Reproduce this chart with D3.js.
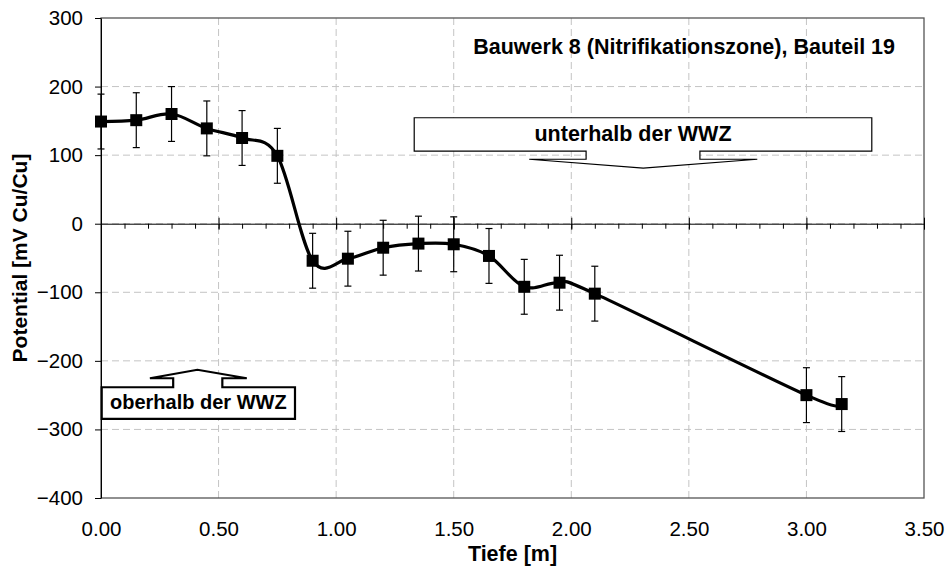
<!DOCTYPE html>
<html>
<head>
<meta charset="utf-8">
<script src="https://cdn.jsdelivr.net/npm/d3@7"></script>
<style>
  body { margin: 0; background: #fff; }
  svg { font-family: "Liberation Sans", Arial, sans-serif; }
  .grid line { stroke: #c4c4c4; stroke-width: 1; stroke-dasharray: 7,4; }
  .axis path, .axis line { stroke: #000; }
  .labels path { display: none; }
  .labels text { font-size: 20.5px; fill: #000; }
  .title { font-weight: bold; font-size: 21.5px; }
</style>
</head>
<body>
<svg id="chart" width="948" height="568"></svg>
<script>

// Tiefe [m]
var depths = [0.00, 0.15, 0.30, 0.45, 0.60, 0.75, 0.90, 1.05, 1.20, 1.35, 1.50, 1.65, 1.80, 1.95, 2.10, 3.00, 3.15];
// Potential [mV Cu/Cu]
var potentials = [149, 151, 160, 139, 125, 99, -54, -51, -35, -29, -30, -47, -92, -86, -102, -250, -263];
var errors = [40, 40, 40, 40, 40, 40, 40, 40, 40, 40, 40, 40, 40, 40, 40, 40, 40];

var xTicks = [0, 0.5, 1, 1.5, 2, 2.5, 3, 3.5];
var xMinorTicks = d3.range(0, 35).map(function(i) { return i / 10; });
var yTicks = [-400, -300, -200, -100, 0, 100, 200, 300];

var chartTitle = 'Bauwerk 8 (Nitrifikationszone), Bauteil 19';
var xTitle = 'Tiefe [m]';
var yTitle = 'Potential [mV Cu/Cu]';

// callouts, given in data units
var calloutBelow = { text: 'unterhalb der WWZ', x0: 1.332, x1: 3.278, y0: 154.5, y1: 106,
  shaft: [2.063, 2.547], stemY: 94, wings: [1.821, 2.791], tip: [2.306, 81] };
var calloutAbove = { text: 'oberhalb der WWZ', x0: 0.003, x1: 0.825, y0: -284.7, y1: -238.5,
  shaft: [0.307, 0.516], stemY: -225.4, wings: [0.208, 0.62], tip: [0.41, -213] };

var settings = { width: 948, height: 568, left: 101, right: 24, top: 18, bottom: 70 };

var data = depths.map(function(d, i) { return { x: d, y: potentials[i], e: errors[i] }; });

var svg = d3.select('#chart');

var scaleX = d3.scaleLinear()
  .domain([0, 3.5])
  .range([settings.left, settings.width - settings.right]);
var scaleY = d3.scaleLinear()
  .domain([-400, 300])
  .range([settings.height - settings.bottom, settings.top]);

// grid
var grid = svg.append('g').classed('grid', true);
grid.selectAll('.gx')
  .data(xTicks.slice(1, -1))
  .enter().append('line')
  .attr('x1', function(d) { return scaleX(d); })
  .attr('x2', function(d) { return scaleX(d); })
  .attr('y1', settings.top)
  .attr('y2', settings.height - settings.bottom);
grid.selectAll('.gy')
  .data(yTicks.slice(1, -1))
  .enter().append('line')
  .attr('y1', function(d) { return scaleY(d); })
  .attr('y2', function(d) { return scaleY(d); })
  .attr('x1', settings.left)
  .attr('x2', settings.width - settings.right);

// plot frame
svg.append('rect')
  .attr('x', settings.left)
  .attr('y', settings.top)
  .attr('width', settings.width - settings.left - settings.right)
  .attr('height', settings.height - settings.top - settings.bottom)
  .attr('fill', 'none')
  .attr('stroke', '#555')
  .attr('stroke-width', 1.3);

// y axis
var groupY = svg.append('g')
  .classed('axis', true)
  .attr('transform', 'translate(' + settings.left + ',0)')
  .call(d3.axisLeft(scaleY).tickValues(yTicks).tickSize(6).tickSizeOuter(0).tickPadding(12));
groupY.selectAll('text').attr('font-size', 20.5).attr('font-family', null).attr('fill', '#000');

// x axis along zero: minor ticks below, major ticks crossing
var zeroAxis = svg.append('g')
  .classed('axis', true)
  .attr('transform', 'translate(0,' + scaleY(0) + ')');
zeroAxis.call(d3.axisBottom(scaleX).tickValues(xMinorTicks).tickSize(5).tickSizeOuter(0).tickFormat(''));
var majors = svg.append('g')
  .classed('axis', true)
  .attr('transform', 'translate(0,' + scaleY(0) + ')')
  .call(d3.axisBottom(scaleX).tickValues(xTicks).tickSize(6).tickSizeOuter(0).tickFormat(''));
majors.select('.domain').remove();
majors.selectAll('.tick line').attr('y1', -6);

// x labels at the bottom
svg.append('g')
  .classed('labels', true)
  .attr('transform', 'translate(0,' + (settings.height - settings.bottom) + ')')
  .call(d3.axisBottom(scaleX).tickValues(xTicks).tickSize(0).tickPadding(23).tickFormat(d3.format('.2f')))
  .selectAll('text').attr('font-family', null);

// error bars
var bars = svg.append('g').selectAll('g')
  .data(data)
  .enter().append('g')
  .attr('stroke', '#000')
  .attr('stroke-width', 1.2);
bars.append('line')
  .attr('x1', function(d) { return scaleX(d.x); })
  .attr('x2', function(d) { return scaleX(d.x); })
  .attr('y1', function(d) { return scaleY(d.y + d.e); })
  .attr('y2', function(d) { return scaleY(d.y - d.e); });
bars.selectAll('.cap')
  .data(function(d) { return [[d.x, d.y + d.e], [d.x, d.y - d.e]]; })
  .enter().append('line')
  .attr('x1', function(d) { return scaleX(d[0]) - 3.5; })
  .attr('x2', function(d) { return scaleX(d[0]) + 3.5; })
  .attr('y1', function(d) { return scaleY(d[1]); })
  .attr('y2', function(d) { return scaleY(d[1]); });

// smoothed line
var line = d3.line()
  .x(function(d) { return scaleX(d.x); })
  .y(function(d) { return scaleY(d.y); })
  .curve(d3.curveCardinal.tension(0));
svg.append('path')
  .datum(data)
  .attr('d', line)
  .attr('fill', 'none')
  .attr('stroke', '#000')
  .attr('stroke-width', 3.2)
  .attr('stroke-linejoin', 'round');

// markers
svg.append('g').selectAll('rect')
  .data(data)
  .enter().append('rect')
  .attr('x', function(d) { return scaleX(d.x) - 6; })
  .attr('y', function(d) { return scaleY(d.y) - 6; })
  .attr('width', 12)
  .attr('height', 12)
  .attr('fill', '#000');

// callouts
function drawCallout(c, strokeWidth) {
  var sign = c.tip[1] > c.y0 ? 1 : -1; // arrow up or down
  var edge = sign > 0 ? Math.max(c.y0, c.y1) : Math.min(c.y0, c.y1);
  var far = sign > 0 ? Math.min(c.y0, c.y1) : Math.max(c.y0, c.y1);
  var pts = [
    [c.x0, far], [c.x1, far], [c.x1, edge],
    [c.shaft[1], edge], [c.shaft[1], c.stemY], [c.wings[1], c.stemY],
    [c.tip[0], c.tip[1]],
    [c.wings[0], c.stemY], [c.shaft[0], c.stemY], [c.shaft[0], edge],
    [c.x0, edge]
  ];
  svg.append('path')
    .attr('d', d3.line()(pts.map(function(p) { return [scaleX(p[0]), scaleY(p[1])]; })) + 'Z')
    .attr('fill', '#fff')
    .attr('stroke', '#000')
    .attr('stroke-width', strokeWidth);
  return (scaleX(c.x0) + scaleX(c.x1)) / 2;
}

var cxBelow = drawCallout(calloutBelow, 1.2);
svg.append('text')
  .classed('title', true)
  .attr('x', cxBelow - 10)
  .attr('y', 141)
  .attr('text-anchor', 'middle')
  .text(calloutBelow.text);

var cxAbove = drawCallout(calloutAbove, 2.2);
svg.append('text')
  .classed('title', true)
  .style('font-size', '20px')
  .attr('x', cxAbove)
  .attr('y', 409)
  .attr('text-anchor', 'middle')
  .text(calloutAbove.text);

// titles
svg.append('text')
  .classed('title', true)
  .attr('x', 895)
  .attr('y', 54)
  .attr('text-anchor', 'end')
  .text(chartTitle);

svg.append('text')
  .classed('title', true)
  .attr('x', (settings.left + settings.width - settings.right) / 2)
  .attr('y', 561)
  .attr('text-anchor', 'middle')
  .text(xTitle);

svg.append('text')
  .classed('title', true)
  .style('font-size', '21px')
  .attr('transform', 'translate(27,' + (settings.top + settings.height - settings.bottom) / 2 + ') rotate(-90)')
  .attr('text-anchor', 'middle')
  .text(yTitle);

</script>
</body>
</html>
